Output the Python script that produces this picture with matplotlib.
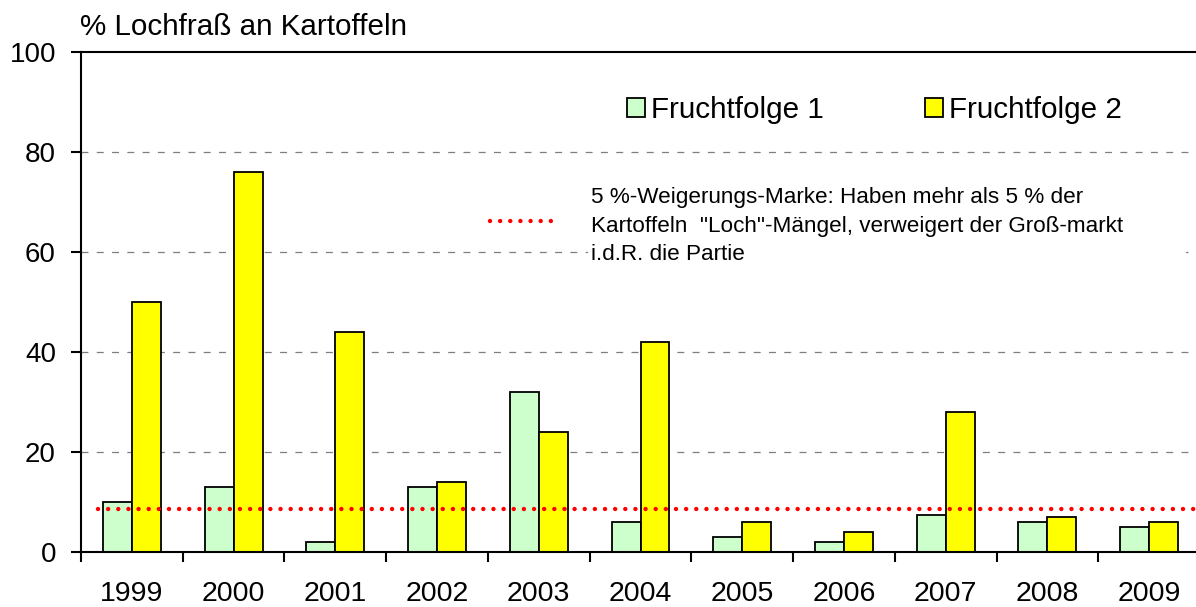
import matplotlib
matplotlib.use("Agg")
import matplotlib.pyplot as plt
from matplotlib.patches import Rectangle
import numpy as np

years = ["1999", "2000", "2001", "2002", "2003", "2004", "2005", "2006", "2007", "2008", "2009"]
fruchtfolge1 = [10, 13, 2, 13, 32, 6, 3, 2, 7.5, 6, 5]
fruchtfolge2 = [50, 76, 44, 14, 24, 42, 6, 4, 28, 7, 6]
threshold = 8.7
yticks = [0, 20, 40, 60, 80, 100]

plt.rcParams['font.family'] = ['Liberation Sans', 'DejaVu Sans']
plt.rcParams['lines.scale_dashes'] = False

W, H = 1196, 607
fig = plt.figure(figsize=(W / 100, H / 100), dpi=100)
ax = fig.add_axes([81 / W, 55 / H, 1119 / W, 500 / H])

x = np.arange(len(years))
w = 0.285
b1 = ax.bar(x - w / 2, fruchtfolge1, w, color="#CCFFCC", edgecolor="black", linewidth=1.3, zorder=2, label="Fruchtfolge 1")
b2 = ax.bar(x + w / 2, fruchtfolge2, w, color="#FFFF00", edgecolor="black", linewidth=1.3, zorder=2, label="Fruchtfolge 2")

ax.hlines(threshold, -0.33, 10.5, colors="red", linewidth=3.2, linestyles=[(0, (0.001, 7.3))], zorder=3, capstyle='round')

ax.set_xlim(-0.5, 10.5)
ax.set_ylim(0, 100)
ax.set_yticks(yticks)
ax.set_yticklabels([str(v) for v in yticks])
ax.set_xticks(x)
ax.set_xticklabels(years)
ax.set_xticks(np.arange(-0.5, 10.6, 1), minor=True)
ax.tick_params(axis='x', which='major', length=0, labelsize=20.5, pad=21)
ax.tick_params(axis='x', which='minor', length=7, width=1.5, direction='out')
ax.tick_params(axis='y', which='major', length=7, width=1.5, direction='out', labelsize=20, pad=11)

for s in ax.spines.values():
    s.set_linewidth(1.5)

ax.set_axisbelow(True)
for v in [20, 40, 60, 80]:
    ax.axhline(v, color="#7f7f7f", linewidth=0.9, linestyle=(0, (5, 6)), zorder=0.5)

# white box behind annotation
ax.add_patch(Rectangle((588 / W, 1 - 267 / H), (1186 - 588) / W, 87 / H, transform=fig.transFigure,
                       facecolor="white", edgecolor="none", zorder=1, clip_on=False))

ax.plot([490 / W, 552 / W], [1 - 221 / H, 1 - 221 / H], transform=fig.transFigure, color="red",
        linewidth=3.2, linestyle=(0, (0.001, 7.3)), dash_capstyle='round', clip_on=False, zorder=3)

fig.text(591 / W, 1 - 187 / H,
         "5 %-Weigerungs-Marke: Haben mehr als 5 % der\nKartoffeln  \"Loch\"-Mängel, verweigert der Groß-markt\ni.d.R. die Partie",
         fontsize=16.2, va='top', ha='left', linespacing=1.48)

fig.text(80 / W, 1 - 35 / H, "% Lochfraß an Kartoffeln", fontsize=21.3, va='baseline', ha='left')

leg = ax.legend(handles=[b1, b2], loc='center left', bbox_to_anchor=(627 / W, 1 - 110 / H),
                bbox_transform=fig.transFigure, ncol=2, frameon=False, fontsize=21.3,
                handlelength=0.62, handleheight=0.62, handletextpad=0.2, columnspacing=3.4,
                borderpad=0, borderaxespad=0)

fig.savefig("out.png", dpi=100)
